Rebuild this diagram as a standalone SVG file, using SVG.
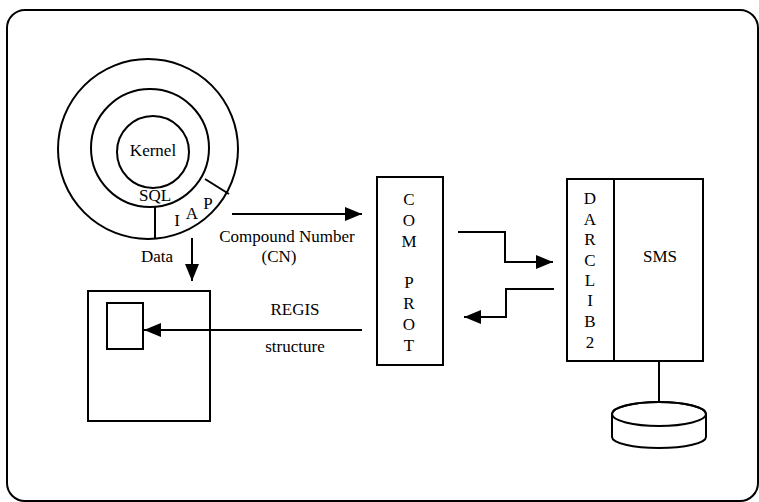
<svg xmlns="http://www.w3.org/2000/svg" width="759" height="502" viewBox="0 0 759 502">
<defs>
<style>
.ln{fill:none;stroke:#000;stroke-width:2}
.bx{fill:#fff;stroke:#000;stroke-width:2}
text{font-family:'Liberation Serif','DejaVu Serif',serif;font-size:17px;fill:#000}
.c{text-anchor:middle}
</style>
<marker id="ahb" viewBox="0 0 10 10" refX="10" refY="5" markerWidth="17" markerHeight="14" markerUnits="userSpaceOnUse" orient="auto" preserveAspectRatio="none">
<path d="M0,0 L10,5 L0,10 Z" fill="#000"/>
</marker>
</defs>
<rect x="0" y="0" width="759" height="502" fill="#fff"/>
<rect class="ln" x="7" y="10" width="751" height="491" rx="18"/>

<g id="rings">
<circle class="ln" cx="148" cy="149" r="90"/>
<circle class="ln" cx="150" cy="148" r="59"/>
<circle class="ln" cx="153" cy="152" r="36"/>
<line class="ln" x1="155" y1="207" x2="155" y2="239"/>
<line class="ln" x1="205" y1="179" x2="229" y2="194"/>
<text class="c" x="153" y="156">Kernel</text>
<text class="c" x="155" y="201">SQL</text>
<text class="c" x="177" y="226">I</text>
<text class="c" x="192" y="219">A</text>
<text class="c" x="208" y="209">P</text>
</g>

<g id="screen">
<rect class="bx" x="88" y="291" width="122" height="130"/>
<rect class="bx" x="107" y="303" width="36" height="46"/>
</g>

<g id="comprot">
<rect class="bx" x="377" y="177" width="66" height="188"/>
<text class="c" x="409" y="205">C</text>
<text class="c" x="409" y="226">O</text>
<text class="c" x="409" y="247">M</text>
<text class="c" x="409" y="288">P</text>
<text class="c" x="409" y="309">R</text>
<text class="c" x="409" y="330">O</text>
<text class="c" x="409" y="351">T</text>
</g>

<g id="darclib-sms">
<rect class="bx" x="567" y="179" width="136" height="182"/>
<line class="ln" x1="614" y1="179" x2="614" y2="361"/>
<text class="c" x="590" y="204">D</text>
<text class="c" x="590" y="225">A</text>
<text class="c" x="590" y="245">R</text>
<text class="c" x="590" y="266">C</text>
<text class="c" x="590" y="286">L</text>
<text class="c" x="590" y="306">I</text>
<text class="c" x="590" y="327">B</text>
<text class="c" x="590" y="348">2</text>
<text class="c" x="660" y="262">SMS</text>
</g>

<g id="disk">
<path class="bx" d="M612,414 L612,437 A47,11 0 0 0 706,437 L706,414 A47,12 0 0 0 612,414 Z"/>
<ellipse class="ln" cx="659" cy="414" rx="47" ry="12"/>
</g>

<g id="connectors">
<line class="ln" x1="232" y1="214" x2="362" y2="214" marker-end="url(#ahb)"/>
<line class="ln" x1="192" y1="238" x2="192" y2="281" marker-end="url(#ahb)"/>
<polyline class="ln" points="458,232 505,232 505,262 553,262" marker-end="url(#ahb)"/>
<polyline class="ln" points="554,289 506,289 506,317 464,317" marker-end="url(#ahb)"/>
<line class="ln" x1="362" y1="330" x2="144" y2="330" marker-end="url(#ahb)"/>
<line class="ln" x1="659" y1="361" x2="659" y2="402"/>
</g>

<g id="labels">
<text class="c" x="287" y="242">Compound Number</text>
<text class="c" x="279" y="262">(CN)</text>
<text class="c" x="157" y="262">Data</text>
<text class="c" x="295" y="315">REGIS</text>
<text class="c" x="295" y="352">structure</text>
</g>
</svg>
